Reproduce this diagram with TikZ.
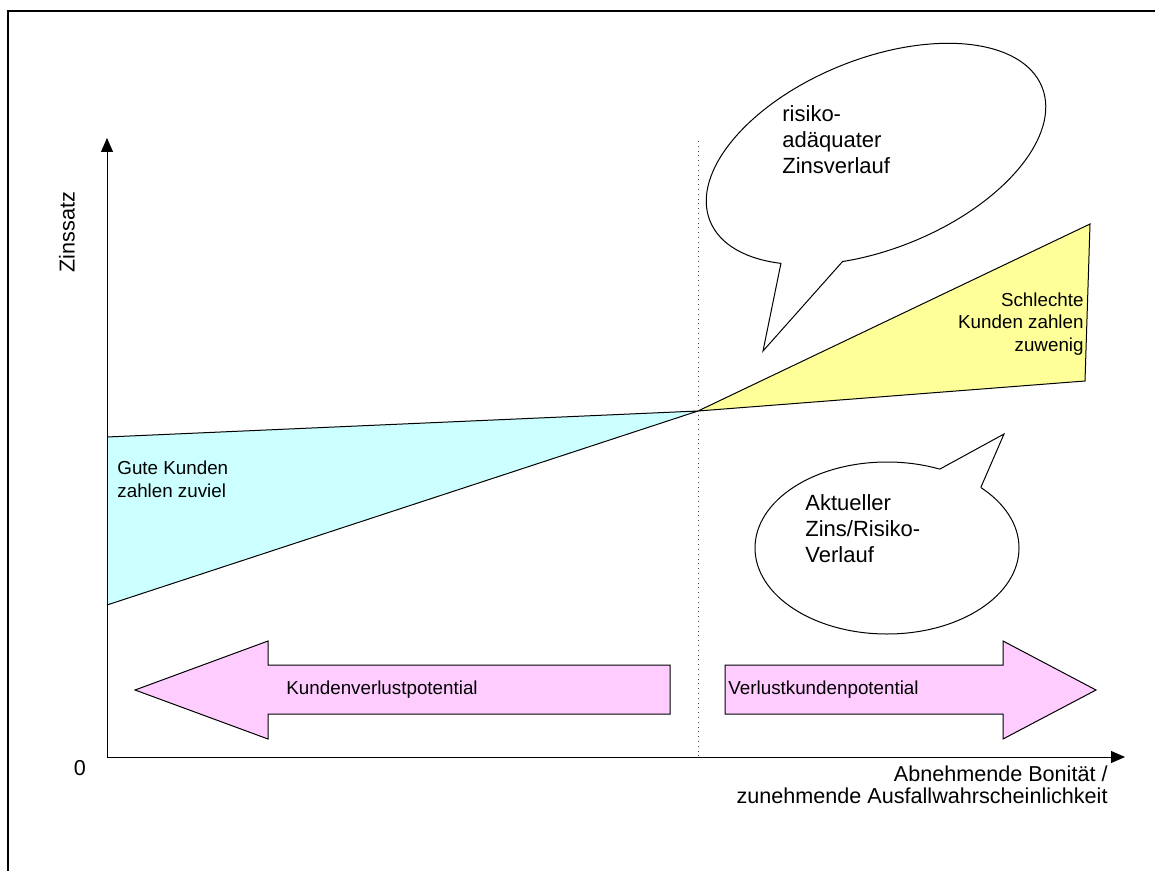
\documentclass[tikz,border=0pt]{standalone}
\usepackage{fontspec}
\setmainfont{Liberation Sans}
\usetikzlibrary{arrows.meta}
\definecolor{gutecyan}{HTML}{CCFFFF}
\definecolor{schlechtgelb}{HTML}{FFFF99}
\definecolor{pfeilrosa}{HTML}{FFCCFF}
\tikzset{
	achse/.style={line width=0.5pt, -{Triangle[length=7pt,width=6pt]}},
	blase/.style={line width=0.5pt, fill=white},
	pfeil/.style={line width=0.5pt, fill=pfeilrosa},
	blasentext/.style={font=\fontsize{11}{13}\selectfont, align=left, inner sep=0pt, anchor=base west},
	flaechentext/.style={font=\fontsize{9.4}{11.25}\selectfont, inner sep=0pt},
	achsentext/.style={font=\fontsize{10.8}{11}\selectfont, inner sep=0pt}
}

\begin{document}
\begin{tikzpicture}[x=0.5pt, y=-0.5pt]
		%%%%% START %%%%%
		\useasboundingbox (0,0) rectangle (1155,871);
		
		% frame
		\draw[line width=1pt] (8,890) -- (8,11) -- (1170,11);
		
		% areas
		\fill[gutecyan] (107,437) -- (698,411) -- (107,605) -- cycle;
		\draw[line width=0.5pt] (107,437) -- (698,411) -- (107,605);
		\draw[line width=0.5pt, fill=schlechtgelb] (698,411) -- (1090,224) -- (1085,381) -- cycle;
		
		\draw[line width=0.4pt, dotted, black!70] (698,141) -- (698,757);
		
		% axes
		\draw[achse] (107,757) -- (107,138);
		\draw[achse] (107,757) -- (1125,757);
		
		% callout top
		\draw[blase, rotate around={22:(876,154)}] (876,154) ellipse [x radius=179, y radius=95];
		\fill[white] (785,258) -- (781,263) -- (763,351) -- (843,261) -- (844,255) -- cycle;
		\draw[line width=0.5pt] (781,263) -- (763,351) -- (843,261);
		
		% callout bottom
		\draw[blase] (887,548) ellipse [x radius=132, y radius=86];
		\fill[white] (938,473) -- (940,469) -- (1004,434) -- (981,487) -- (977,490) -- cycle;
		\draw[line width=0.5pt] (940,469) -- (1004,434) -- (981,487);
		
		% arrows
		\draw[pfeil] (135,690) -- (268,641) -- (268,665) -- (670,665) -- (670,714) -- (268,714) -- (268,739) -- cycle;
		\draw[pfeil] (725,665) -- (1003,665) -- (1003,641) -- (1096,690) -- (1003,739) -- (1003,714) -- (725,714) -- cycle;
		
		% texts (base = last line)
		\node[blasentext] (risiko) at (782,174) {risiko-\\adäquater\\Zinsverlauf};
		\node[blasentext] (aktuell) at (805,562) {Aktueller\\Zins/Risiko-\\Verlauf};
		\node[flaechentext, align=left, anchor=base west] (gute) at (117,497) {Gute Kunden\\zahlen zuviel};
		\node[flaechentext, align=right, anchor=base east] (schlecht) at (1084,351) {Schlechte\\Kunden zahlen\\zuwenig};
		\node[flaechentext, anchor=base west] (kundenverlust) at (286,694) {Kundenverlustpotential};
		\node[flaechentext, anchor=base west] (verlustkunden) at (728,694) {Verlustkundenpotential};
		
		\node[achsentext, rotate=90] (zinssatz) at (67,232) {Zinssatz};
		\node[achsentext] (null) at (80,768) {0};
		\node[achsentext, align=right, anchor=base east] (bonitaet) at (1108,803) {Abnehmende Bonität /\\zunehmende Ausfallwahrscheinlichkeit};
		
		%%%%% END %%%%%
	\end{tikzpicture}
\end{document}
